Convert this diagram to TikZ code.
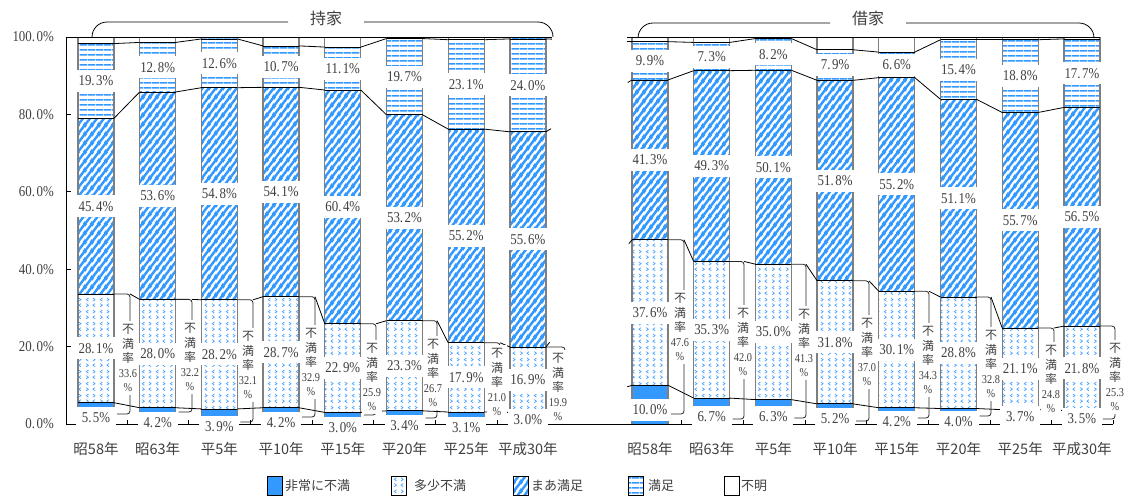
\documentclass[tikz,border=0pt]{standalone}
\usepackage{fontspec}
\setmainfont{Liberation Serif}
\newfontfamily\jp{Noto Sans CJK JP}
\newfontfamily\numf{Liberation Serif}[FakeStretch=0.86]
\usetikzlibrary{patterns.meta,calc}
\definecolor{bblue}{HTML}{3399FF}
\definecolor{lblue}{HTML}{4DA6FF}
\definecolor{txt}{HTML}{404040}
\definecolor{sidegray}{HTML}{7F7F7F}
\pgfdeclarelayer{brk}
\pgfdeclarelayer{lab}
\pgfsetlayers{main,brk,lab}
\tikzdeclarepattern{
  name=diagstripe, type=uncolored,
  bounding box={(0pt,0pt) and (6.5pt,8.5pt)},
  tile size={(6.5pt,8.5pt)},
  code={
    \draw[line width=2.6pt] (-13pt,-17pt) -- (13pt,17pt);
    \draw[line width=2.6pt] (-6.5pt,-17pt) -- (19.5pt,17pt);
    \draw[line width=2.6pt] (-19.5pt,-17pt) -- (6.5pt,17pt);
  }
}
\tikzdeclarepattern{
  name=hstripe, type=uncolored,
  bounding box={(0pt,0pt) and (8pt,4.6pt)},
  tile size={(8pt,4.6pt)},
  code={\fill (0pt,1.5pt) rectangle (8pt,3.1pt);}
}
\tikzdeclarepattern{
  name=chev, type=uncolored,
  bounding box={(0pt,0pt) and (14pt,12pt)},
  tile size={(14pt,12pt)},
  code={
    \draw[line width=0.8pt] (2.4pt,1.3pt) -- (4.6pt,3pt) -- (2.4pt,4.7pt);
    \draw[line width=0.8pt] (11.6pt,1.3pt) -- (9.4pt,3pt) -- (11.6pt,4.7pt);
    \draw[line width=0.8pt] (9.4pt,7.3pt) -- (11.6pt,9pt) -- (9.4pt,10.7pt);
    \draw[line width=0.8pt] (4.6pt,7.3pt) -- (2.4pt,9pt) -- (4.6pt,10.7pt);
  }
}
\def\pct#1.#2\relax{#1.\hspace{1.5pt}#2\%}
% i/a/b/c/d/aLabelY/ratio/ratioX/ratioY/bracketX/hookY
\def\Ldata{0/5.5/28.1/45.4/19.3/418/33.6/128/358/130/414,%
1/4.2/28.0/53.6/12.8/423/32.2/190/357/192/412,%
2/3.9/28.2/54.8/12.6/427/32.1/248/365/253/422,%
3/4.2/28.7/54.1/10.7/423/32.9/311/362/315/417,%
4/3.0/22.9/60.4/11.1/428/25.9/372/377/376/415,%
5/3.4/23.3/53.2/19.7/426/26.7/433/373/437/418,%
6/3.1/17.9/55.2/23.1/428/21.0/497/382/500/418,%
7/3.0/16.9/55.6/24.0/420/19.9/558/387/565/423}
\def\Rdata{0/10.0/37.6/41.3/9.9/410/47.6/680/327/684/414,%
1/6.7/35.3/49.3/7.3/417/42.0/743/342/744/419,%
2/6.3/35.0/50.1/8.2/417/41.3/804/343/806/418,%
3/5.2/31.8/51.8/7.9/419/37.0/867/352/869/421,%
4/4.2/30.1/55.2/6.6/422/34.3/928/360/929/418,%
5/4.0/28.8/51.1/15.4/422/32.8/991/364/991/416,%
6/3.7/21.1/55.7/18.8/417/24.8/1051/379/1054/413,%
7/3.5/21.8/56.5/17.7/419/25.3/1115/377/1115/419}
\newcommand\drawpanel[3]{%
 \foreach \i/\va/\vb/\vc/\vd/\ay/\fr/\lx/\ly/\bx/\hy in #3 {
  \pgfmathsetmacro\xl{#2+61.7*\i}
  \pgfmathsetmacro\xr{\xl+36}
  \pgfmathsetmacro\xm{\xl+18}
  \pgfmathsetmacro\xh{\xr+3}
  \pgfmathsetmacro\yA{424-3.87*\va}
  \pgfmathsetmacro\yB{424-3.87*(\va+\vb)}
  \pgfmathsetmacro\yC{424-3.87*(\va+\vb+\vc)}
  \pgfmathsetmacro\yD{424-3.87*(\va+\vb+\vc+\vd)}
  \pgfmathsetmacro\mB{(\yA+\yB)/2}
  \pgfmathsetmacro\mC{(\yB+\yC)/2}
  \pgfmathsetmacro\mD{(\yC+\yD)/2}
  \fill[bblue] (\xl,424) rectangle (\xr,\yA);
  \fill[pattern=chev, pattern color=lblue] (\xl,\yA) rectangle (\xr,\yB);
  \fill[pattern=diagstripe, pattern color=bblue] (\xl,\yB) rectangle (\xr,\yC);
  \fill[pattern=hstripe, pattern color=bblue] (\xl,\yC) rectangle (\xr,\yD);
  \draw[barside] (\xl,424) -- (\xl,37) (\xr,424) -- (\xr,37);
  \foreach \yy in {\yA,\yB,\yC,\yD,37} \draw[series] (\xl,\yy) -- (\xr,\yy);
  \coordinate (#1\i-1-l) at (\xl,\yA); \coordinate (#1\i-1-r) at (\xr,\yA);
  \coordinate (#1\i-2-l) at (\xl,\yB); \coordinate (#1\i-2-r) at (\xr,\yB);
  \coordinate (#1\i-3-l) at (\xl,\yC); \coordinate (#1\i-3-r) at (\xr,\yC);
  \coordinate (#1\i-4-l) at (\xl,\yD); \coordinate (#1\i-4-r) at (\xr,\yD);
  \coordinate (#1\i-5-l) at (\xl,37);  \coordinate (#1\i-5-r) at (\xr,37);
  \coordinate (#1\i-2-b) at (\bx,\yB);
  \coordinate (#1\i-h) at (\bx,\hy);
  \coordinate (#1\i-e) at (\xh,\hy);
  \begin{pgfonlayer}{brk}
   \draw[brk] (#1\i-2-r) -- (#1\i-2-b) -- (#1\i-h) -- (#1\i-e);
  \end{pgfonlayer}
  \begin{pgfonlayer}{lab}
   \node[lab] (#1\i a) at (\xm,\ay) {\expandafter\pct\va\relax};
   \node[lab] (#1\i b) at (\xm,\mB) {\expandafter\pct\vb\relax};
   \node[lab] (#1\i c) at (\xm,\mC) {\expandafter\pct\vc\relax};
   \node[lab] (#1\i d) at (\xm,\mD) {\expandafter\pct\vd\relax};
   \node[flab] (#1\i f) at (\lx,\ly) {不\\満\\率\\{\numf\fontsize{12}{14.5}\selectfont \fr}\\{\numf\fontsize{12}{14.5}\selectfont\%}};
  \end{pgfonlayer}
 }%
}
\begin{document}
\begin{tikzpicture}[x=1pt,y=-1pt,
  lab/.style={fill=white,inner sep=0pt,minimum width=40pt,minimum height=22pt,text=txt,font=\numf\fontsize{15}{17}\selectfont},
  flab/.style={fill=white,inner xsep=1pt,inner ysep=3pt,text=txt,align=center,font=\jp\fontsize{12}{14.5}\selectfont},
  cat/.style={text=txt,font=\jp\fontsize{14.5}{17}\selectfont,inner sep=0pt},
  axlab/.style={anchor=east,text=txt,font=\numf\fontsize{15}{17}\selectfont,inner sep=0pt},
  legbox/.style={draw=black,line width=0.7pt,minimum width=15pt,minimum height=19pt,inner sep=0pt},
  legtxt/.style={anchor=west,text=txt,font=\jp\fontsize{13}{15}\selectfont,inner sep=0pt},
  series/.style={black,line width=0.8pt},
  barside/.style={sidegray,line width=1.3pt},
  brk/.style={black!85,line width=0.8pt,rounded corners=3pt},
  ttl/.style={text=txt,font=\jp\fontsize{16}{18}\selectfont,inner sep=0pt}
]
\fill[white] (0,0) rectangle (1132,499);
\useasboundingbox (0,0) rectangle (1132,499);
% bars
\drawpanel{L}{78}{\Ldata}
\drawpanel{R}{632}{\Rdata}
% series lines
\foreach \p in {L,R}{
 \foreach \i [evaluate=\i as \j using int(\i+1)] in {0,...,6}{
   \foreach \k in {1,3,4,5} \draw[series] (\p\i-\k-r) -- (\p\j-\k-l);
   \draw[series] (\p\i-2-b) -- (\p\j-2-l);
 }
}
\foreach \k in {1,...,5}{
  \draw[series] (L7-\k-r) -- ($(L7-\k-r)!6pt!(R0-\k-l)$);
  \draw[series] ($(R0-\k-l)!5pt!(L7-\k-r)$) -- (R0-\k-l);
}
% axes
\draw[series] (66,37) -- (66,424);
\draw[series] (66,37) -- (78,37);
\foreach \v in {0,20,...,100} \draw[series] (66,{424-3.87*\v}) -- (71,{424-3.87*\v});
\foreach \v in {0,20,...,100} \node[axlab] (ya\v) at (54,{424-3.87*\v}) {\v.\hspace{1.5pt}0\%};
\draw[series] (66,424) -- (1113,424);
\foreach \i in {0,...,7}{
  \draw[series] ({127+61.7*\i},424) -- ++(0,-4);
  \draw[series] ({681.5+61.7*\i},424) -- ++(0,-4);
}
% category labels
\foreach \i/\t in {0/昭58年,1/昭63年,2/平5年,3/平10年,4/平15年,5/平20年,6/平25年,7/平成30年}{
  \node[cat] (Lc\i) at ({96+61.7*\i},449) {\t};
  \node[cat] (Rc\i) at ({650+61.7*\i},449) {\t};
}
% group braces
\node[ttl] (t1) at (326,18) {持家};
\node[ttl] (t2) at (868,18) {借家};
\draw[series,rounded corners=15pt] (92,37) -- (92,22) -- (288,22);
\draw[series,rounded corners=15pt] (364,22) -- (553,22) -- (553,37);
\draw[series,rounded corners=15pt] (638,38) -- (638,23) -- (830,23);
\draw[series,rounded corners=15pt] (906,23) -- (1094,23) -- (1094,37);
% legend
\node[legbox,fill=bblue] (lg1) at (274.5,486) {};
\node[legtxt] (lt1) at (285,486) {非常に不満};
\node[legbox,pattern=chev,pattern color=lblue] (lg2) at (398.5,486) {};
\node[legtxt] (lt2) at (414,486) {多少不満};
\node[legbox,pattern=diagstripe,pattern color=bblue] (lg3) at (521,486) {};
\node[legtxt] (lt3) at (531,486) {まあ満足};
\node[legbox,pattern=hstripe,pattern color=bblue] (lg4) at (635.5,486) {};
\node[legtxt] (lt4) at (648,486) {満足};
\node[legbox] (lg5) at (732,486) {};
\node[legtxt] (lt5) at (741,486) {不明};
\end{tikzpicture}
\end{document}
